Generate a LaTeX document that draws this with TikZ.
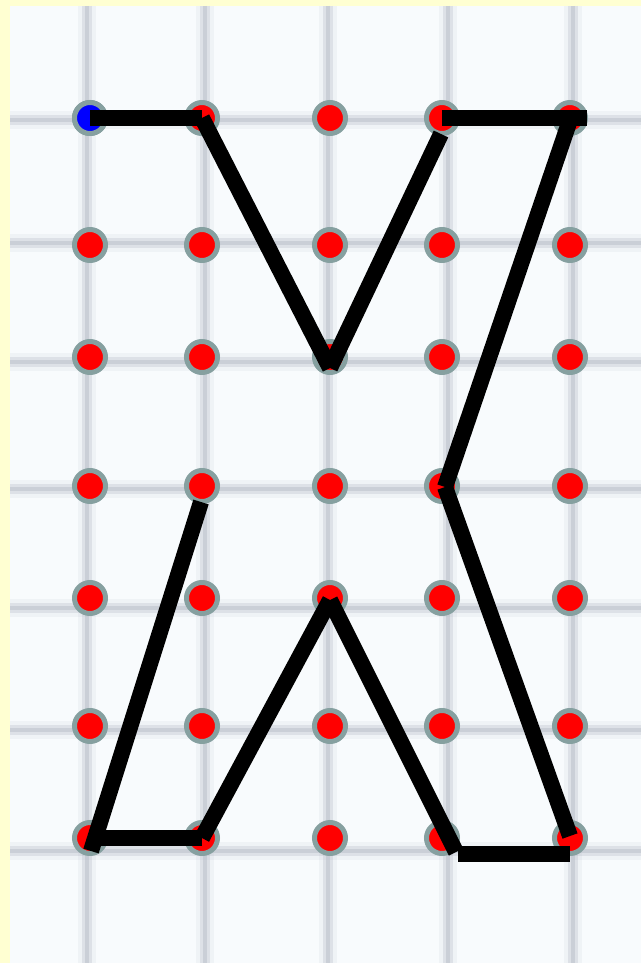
\documentclass[tikz,border=0pt]{standalone}
\begin{document}
\begin{tikzpicture}[x=1pt,y=-1pt,
  dot/.style={circle,draw=ringgray,line width=5pt,fill=red,minimum size=31pt,inner sep=0pt},
  startdot/.style={dot,fill=blue},
  seg/.style={line width=16pt,line cap=butt,draw=black},
  gridsoft/.style={line width=18pt,draw=gridc,opacity=0.10},
  gridmid/.style={line width=10pt,draw=gridc,opacity=0.25},
  gridcore/.style={line width=4pt,draw=gridc,opacity=0.35}]
\definecolor{ringgray}{HTML}{86A0A0}
\definecolor{bordery}{HTML}{FFFFD2}
\definecolor{paper}{HTML}{F8FBFD}
\definecolor{gridc}{HTML}{A8AEBC}
\useasboundingbox (0,0) rectangle (641,963);
\fill[bordery] (0,0) rectangle (641,963);
\fill[paper] (10,6) rectangle (641,963);
% blurred grid
\foreach \gx in {87,205,328,448,573}{
  \draw[gridsoft] (\gx,6) -- (\gx,963);
  \draw[gridmid] (\gx,6) -- (\gx,963);
  \draw[gridcore] (\gx,6) -- (\gx,963);
}
\foreach \gy in {120,243,362,489,608,730,851}{
  \draw[gridsoft] (10,\gy) -- (641,\gy);
  \draw[gridmid] (10,\gy) -- (641,\gy);
  \draw[gridcore] (10,\gy) -- (641,\gy);
}
% dots
\foreach \c/\x in {1/90,2/202,3/330,4/442,5/570}{
  \foreach \r/\y in {1/118,2/245,3/357,4/486,5/598,6/726,7/838}{
    \node[dot] (d\c\r) at (\x,\y) {};
  }
}
\node[startdot] at (d11) {};
% free ends of segments
\coordinate (vb) at (330,368);
\coordinate (vt) at (441,134);
\coordinate (tr) at (587,118);
\coordinate (rt) at (570,120);
\coordinate (kk) at (445,487);
\coordinate (rb) at (570,836);
\coordinate (bl) at (458,854);
\coordinate (br) at (570,854);
\coordinate (la) at (456,852);
\coordinate (ap) at (330,600);
\coordinate (ll) at (91,851);
\coordinate (lu) at (201,502);
% path segments
\draw[seg] (d11.center) -- (d21.center);
\draw[seg] (d21.center) -- (vb);
\draw[seg] (vb) -- (vt);
\draw[seg] (d41.center) -- (tr);
\draw[seg] (rt) -- (kk);
\draw[seg] (kk) -- (rb);
\draw[seg] (bl) -- (br);
\draw[seg] (la) -- (ap);
\draw[seg] (ap) -- (d27.center);
\draw[seg] (d27.center) -- (d17.center);
\draw[seg] (ll) -- (lu);
\end{tikzpicture}
\end{document}
